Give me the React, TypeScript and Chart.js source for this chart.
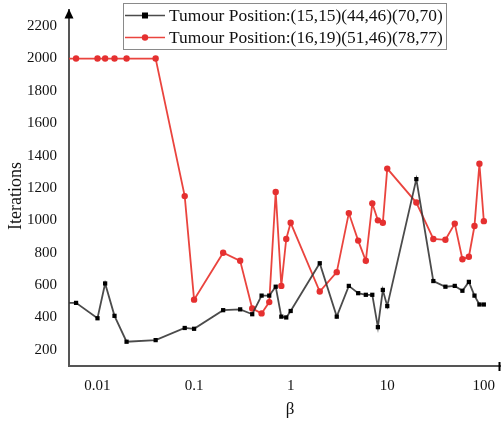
import { useEffect, useRef } from 'react';
import { Chart, registerables } from 'chart.js';
Chart.register(...registerables);

const beta = [0.004, 0.006, 0.01, 0.012, 0.015, 0.02, 0.04, 0.08, 0.1, 0.2, 0.3, 0.4, 0.5, 0.6, 0.7, 0.8, 0.9, 1, 2, 3, 4, 5, 6, 7, 8, 9, 10, 20, 30, 40, 50, 60, 70, 80, 90, 100];
const itersA = [490, 490, 395, 610, 410, 250, 260, 335, 330, 445, 450, 420, 535, 535, 590, 405, 400, 440, 735, 405, 595, 550, 540, 540, 340, 570, 470, 1255, 625, 590, 595, 565, 620, 535, 480, 480];
const itersB = [2000, 2000, 2000, 2000, 2000, 2000, 2000, 1150, 510, 800, 750, 455, 425, 495, 1175, 595, 885, 985, 560, 680, 1045, 875, 750, 1105, 1000, 985, 1320, 1110, 885, 880, 980, 760, 775, 965, 1350, 995];
const legendA = 'Tumour Position:(15,15)(44,46)(70,70)';
const legendB = 'Tumour Position:(16,19)(51,46)(78,77)';
const xTicks = [0.01, 0.1, 1, 10, 100];
const yTicks = [200, 400, 600, 800, 1000, 1200, 1400, 1600, 1800, 2000, 2200];
const xTitle = 'β';
const yTitle = 'Iterations';

const serif = "'Liberation Serif', 'Times New Roman', Times, serif";
const colA = 'rgba(55,55,55,0.9)';
const colB = 'rgba(232,52,46,0.92)';

const decor = {
  id: 'decor',
  afterDraw(chart: any) {
    const { ctx, chartArea } = chart;
    ctx.save();
    // y-axis arrow
    ctx.fillStyle = '#000';
    ctx.beginPath();
    ctx.moveTo(chartArea.left, chartArea.top - 1);
    ctx.lineTo(chartArea.left - 4.5, chartArea.top + 8.5);
    ctx.lineTo(chartArea.left + 4.5, chartArea.top + 8.5);
    ctx.closePath();
    ctx.fill();
    // x-axis end mark
    ctx.strokeStyle = '#000';
    ctx.lineWidth = 2;
    ctx.beginPath();
    ctx.moveTo(chartArea.right - 0.5, chartArea.bottom - 4);
    ctx.lineTo(chartArea.right - 0.5, chartArea.bottom + 5);
    ctx.stroke();
    // axis titles
    ctx.fillStyle = '#111';
    ctx.font = `17px ${serif}`;
    ctx.textAlign = 'center';
    ctx.textBaseline = 'middle';
    ctx.fillText(xTitle, 290, 410);
    ctx.save();
    ctx.translate(16, 196);
    ctx.rotate(-Math.PI / 2);
    ctx.font = `18px ${serif}`;
    ctx.fillText(yTitle, 0, 0);
    ctx.restore();
    // legend
    ctx.fillStyle = '#fff';
    ctx.fillRect(123.5, 3.5, 323, 46);
    ctx.strokeStyle = '#8a8a8a';
    ctx.lineWidth = 1;
    ctx.strokeRect(123.5, 3.5, 323, 46);
    const rows = [
      { label: legendA, col: colA, y: 15.5, rect: true },
      { label: legendB, col: colB, y: 37.5, rect: false },
    ];
    rows.forEach((r) => {
      ctx.strokeStyle = r.col;
      ctx.lineWidth = 1.6;
      ctx.beginPath();
      ctx.moveTo(125, r.y);
      ctx.lineTo(165, r.y);
      ctx.stroke();
      if (r.rect) {
        ctx.fillStyle = '#000';
        ctx.fillRect(142, r.y - 3, 6, 6);
      } else {
        ctx.fillStyle = '#e53030';
        ctx.beginPath();
        ctx.arc(145, r.y, 3.2, 0, Math.PI * 2);
        ctx.fill();
      }
      ctx.fillStyle = '#111';
      ctx.font = `17.4px ${serif}`;
      ctx.textAlign = 'left';
      ctx.textBaseline = 'middle';
      ctx.fillText(r.label, 169, r.y + 1);
    });
    ctx.restore();
  },
};

const zeroPad = (s: any) => {
  s.paddingTop = 0;
  s.paddingBottom = 0;
  s.paddingLeft = 0;
  s.paddingRight = 0;
};

export default function App() {
  const ref = useRef<HTMLCanvasElement>(null);
  useEffect(() => {
    const chart = new Chart(ref.current!, {
      type: 'line',
      data: {
        datasets: [
          {
            label: legendA,
            data: beta.map((b, i) => ({ x: b, y: itersA[i] })),
            borderColor: colA,
            borderWidth: 1.8,
            pointStyle: 'rect',
            pointRadius: 3,
            pointBackgroundColor: '#000',
            pointBorderWidth: 0,
          },
          {
            label: legendB,
            data: beta.map((b, i) => ({ x: b, y: itersB[i] })),
            borderColor: colB,
            borderWidth: 1.8,
            pointStyle: 'circle',
            pointRadius: 3.2,
            pointBackgroundColor: '#e53030',
            pointBorderWidth: 0,
          },
        ],
      },
      options: {
        animation: false,
        responsive: false,
        layout: { padding: { top: 10, right: 1, left: 0, bottom: 0 } },
        plugins: { legend: { display: false }, tooltip: { enabled: false } },
        scales: {
          x: {
            type: 'logarithmic',
            min: 0.00507,
            max: 147,
            grid: { display: false, drawTicks: false },
            border: { display: true, color: '#555', width: 2 },
            afterBuildTicks: (s: any) => {
              s.ticks = xTicks.map((v) => ({ value: v }));
            },
            afterFit: (s: any) => {
              s.height = 57;
              zeroPad(s);
            },
            ticks: {
              autoSkip: false,
              maxRotation: 0,
              padding: 11,
              color: '#111',
              font: { family: serif, size: 15 },
              callback: (v: any) => String(v),
            },
          },
          y: {
            type: 'linear',
            min: 100,
            max: 2300,
            grid: { display: false, drawTicks: false },
            border: { display: true, color: '#555', width: 2 },
            afterBuildTicks: (s: any) => {
              s.ticks = yTicks.map((v) => ({ value: v }));
            },
            afterFit: (s: any) => {
              s.width = 69;
              zeroPad(s);
            },
            ticks: {
              padding: 12,
              color: '#111',
              font: { family: serif, size: 15 },
              callback: (v: any) => String(v),
            },
          },
        },
      },
      plugins: [decor],
    });
    return () => chart.destroy();
  }, []);
  return (
    <div style={{ position: 'absolute', left: 0, top: 0, width: 504, height: 423 }}>
      <canvas ref={ref} width={504} height={423} style={{ width: 504, height: 423 }} />
    </div>
  );
}
